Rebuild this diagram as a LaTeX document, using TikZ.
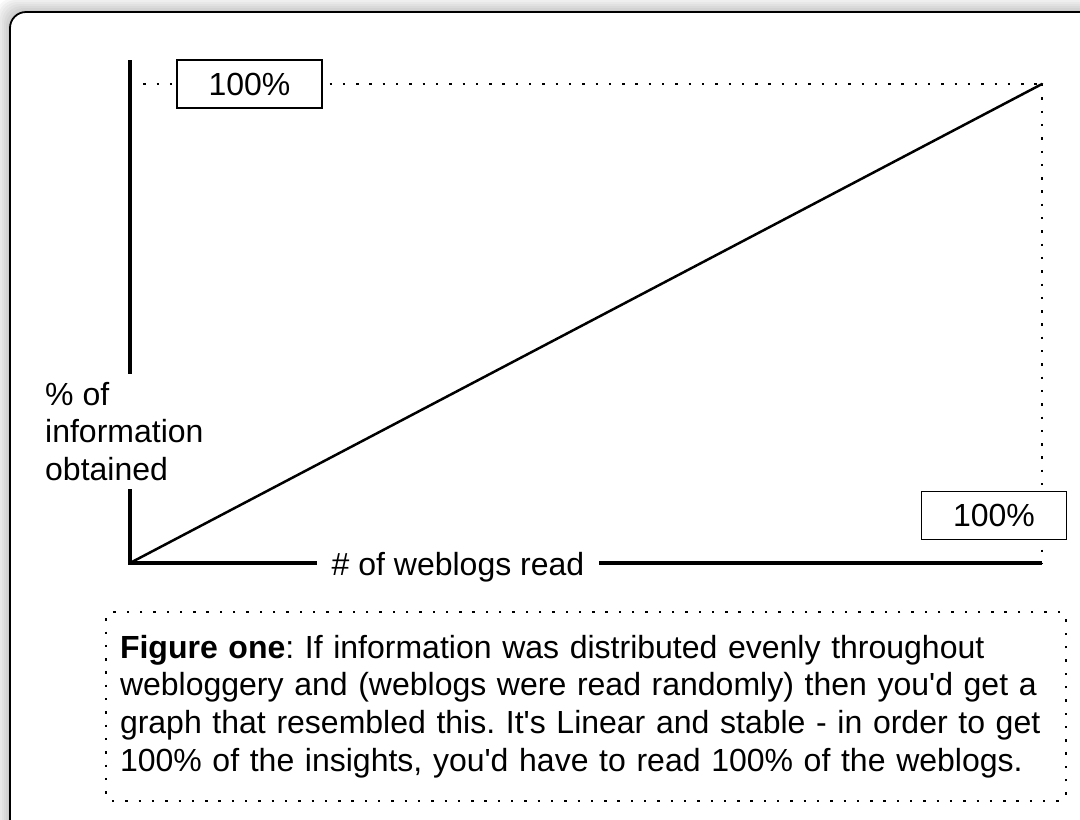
\documentclass[tikz,border=0pt]{standalone}
\usepackage{fontspec}
\setmainfont{Liberation Sans}
\frenchspacing
\begin{document}
\begin{tikzpicture}[x=1pt,y=-1pt,
  axisline/.style={line width=4.5pt},
  plotline/.style={line width=2.5pt},
  dotline/.style={line width=2.4pt, dash pattern=on 2.4pt off 10.9pt},
  bigfont/.style={font=\fontsize{32}{37.6}\selectfont},
  valbox/.style={bigfont, draw, line width=1.6pt, fill=white, minimum width=145pt, minimum height=48pt, inner sep=0pt},
  axislabel/.style={bigfont, fill=white, inner sep=0pt},
  captionbox/.style={bigfont, draw, dotline, rounded corners=6pt, text width=932pt, inner xsep=14pt, inner ysep=0pt, minimum height=189pt, align=left}]
\useasboundingbox (0,0) rectangle (1080,820);
\clip (0,0) rectangle (1080,820);
% shadow and frame
\foreach \i in {14,12,...,2}
  \fill[black, opacity=0.03, rounded corners=18pt] (10-\i,12-\i) rectangle (1110+\i,860+\i);
\draw[line width=1.8pt, fill=white, rounded corners=16pt] (10,12) rectangle (1110,860);
% coordinates
\coordinate (O) at (130,563);
\coordinate (Ytop) at (130,60);
\coordinate (Yref) at (130,84);
\coordinate (TR) at (1042,84);
\coordinate (Xend) at (1042,563);
% lines
\draw[dotline] (Yref) -- (TR);
\draw[dotline] (TR) -- (Xend);
\draw[plotline, line cap=round] (O) -- (TR);
\draw[axisline] (Ytop) -- (O) -- (Xend);
% labels
\node[axislabel, inner xsep=15pt, inner ysep=4pt, anchor=base] (xlab) at (458,575) {\# of weblogs read};
\node[axislabel, inner ysep=8pt, anchor=north west, align=left] (ylab) at (45,374) {\% of\\information\\obtained};
\node[valbox] (ytop100) at (249.5,84) {100\%};
\node[valbox] (xend100) at (994,515.5) {100\%};
\node[captionbox] (cap) at (586,706.5) {\textbf{Figure one}: If information was distributed evenly throughout\\webloggery and (weblogs were read randomly) then you\textquotesingle d get a\\graph that resembled this. It\textquotesingle s Linear and stable - in order to get\\100\% of the insights, you\textquotesingle d have to read 100\% of the weblogs.};
\end{tikzpicture}
\end{document}
